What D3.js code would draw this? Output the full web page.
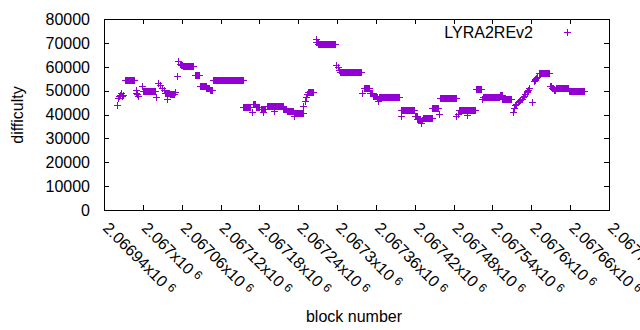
<!DOCTYPE html>
<html><head><meta charset="utf-8">
<script src="https://cdn.jsdelivr.net/npm/d3@7"></script>
<style>
body{margin:0;background:#fff}
svg{display:block}
text{font-family:"Liberation Sans",Arial,sans-serif;fill:#000}
</style>
</head><body>
<svg id="chart" width="640" height="330"></svg>
<script>
// Runs of blocks sharing one difficulty value: [start block, end block, difficulty]
const runStart = [2066960,2066961,2066963,2066965,2066966,2066968,2066970,2066972,2066989,2066990,2066991,2066993,2066999,2067001,2067020,2067024,2067027,2067030,2067032,2067034,2067038,2067039,2067042,2067050,2067052,2067055,2067057,2067059,2067062,2067080,2067089,2067098,2067103,2067109,2067155,2067168,2067170,2067174,2067183,2067186,2067187,2067191,2067202,2067203,2067217,2067222,2067233,2067234,2067248,2067250,2067252,2067254,2067255,2067267,2067268,2067271,2067299,2067301,2067303,2067305,2067339,2067342,2067351,2067355,2067361,2067363,2067364,2067398,2067399,2067420,2067424,2067429,2067430,2067431,2067432,2067447,2067457,2067459,2067484,2067487,2067489,2067500,2067501,2067515,2067524,2067526,2067551,2067555,2067571,2067573,2067575,2067577,2067579,2067581,2067583,2067585,2067587,2067588,2067590,2067593,2067594,2067595,2067596,2067597,2067601,2067604,2067605,2067606,2067607,2067609,2067612,2067629,2067632,2067635,2067638,2067658];
const runEnd   = [2066960,2066961,2066963,2066965,2066966,2066968,2066970,2066987,2066989,2066990,2066991,2066993,2066999,2067018,2067020,2067024,2067027,2067030,2067032,2067037,2067038,2067041,2067048,2067050,2067052,2067055,2067057,2067060,2067077,2067087,2067097,2067102,2067107,2067154,2067165,2067168,2067173,2067180,2067185,2067186,2067188,2067201,2067202,2067216,2067221,2067232,2067233,2067247,2067248,2067250,2067252,2067254,2067263,2067267,2067270,2067297,2067299,2067301,2067303,2067337,2067339,2067350,2067354,2067360,2067362,2067363,2067396,2067398,2067419,2067423,2067428,2067429,2067430,2067431,2067446,2067456,2067457,2067483,2067484,2067487,2067499,2067500,2067513,2067522,2067524,2067550,2067554,2067569,2067571,2067573,2067575,2067577,2067579,2067581,2067583,2067585,2067587,2067588,2067590,2067593,2067594,2067595,2067596,2067597,2067601,2067604,2067605,2067606,2067607,2067609,2067628,2067631,2067634,2067637,2067657,2067682];
const runDiff  = [43900,46900,47600,48300,48800,47900,48000,54500,50400,49100,48500,47800,51800,49800,47300,53400,52300,51200,50100,49200,46500,49200,48500,49400,56000,62300,61300,60800,60200,56600,52100,51100,50200,54500,43100,41100,44600,43000,42200,41000,42200,43400,41400,43400,42300,41500,39300,40600,43500,45500,47500,48500,49500,71600,70500,69600,60800,59900,58500,57800,48800,51100,48900,47900,47300,45500,47300,39300,41700,39300,38200,37300,36300,37500,38500,42800,40300,47000,39300,40300,41800,40000,41800,50700,46500,47400,48200,46500,41000,42800,43800,44600,45200,45600,46200,46700,47400,47900,48400,49500,49900,50400,51000,51200,45300,53900,54400,54800,55300,55600,57500,52000,51300,50200,51200,49900];

const xTicks = [2066940,2067000,2067060,2067120,2067180,2067240,2067300,2067360,2067420,2067480,2067540,2067600,2067660,2067720];
const xTickMantissa = ["2.06694","2.067","2.06706","2.06712","2.06718","2.06724","2.0673","2.06736","2.06742","2.06748","2.06754","2.0676","2.06766","2.06772"];
const yTicks = [0,10000,20000,30000,40000,50000,60000,70000,80000];
const seriesName = "LYRA2REv2";
const xLabel = "block number";
const yLabel = "difficulty";
const color = "#9400d3";

// expand runs into one point per block
const points = [];
runStart.forEach((s, i) => {
  for (let b = s; b <= runEnd[i]; b++) points.push({block: b, diff: runDiff[i]});
});

const svg = d3.select("#chart");
const L = 104, R = 609, T = 19, B = 210;
const x = d3.scaleLinear().domain([2066940, 2067720]).range([L, R]);
const y = d3.scaleLinear().domain([0, 80000]).range([B, T]);

// border
svg.append("rect").attr("x", L + 0.5).attr("y", T + 0.5).attr("width", R - L).attr("height", B - T)
  .attr("fill", "none").attr("stroke", "#000").attr("stroke-width", 1).attr("shape-rendering", "crispEdges");

const tl = 5;
const tickG = svg.append("g").attr("stroke", "#000").attr("stroke-width", 1).attr("shape-rendering", "crispEdges");
yTicks.forEach(v => {
  const py = Math.round(y(v)) + 0.5;
  tickG.append("line").attr("x1", L).attr("x2", L + tl).attr("y1", py).attr("y2", py);
  tickG.append("line").attr("x1", R - tl).attr("x2", R).attr("y1", py).attr("y2", py);
});
xTicks.forEach(v => {
  const px = Math.round(x(v)) + 0.5;
  tickG.append("line").attr("x1", px).attr("x2", px).attr("y1", B).attr("y2", B - tl);
  tickG.append("line").attr("x1", px).attr("x2", px).attr("y1", T).attr("y2", T + tl);
});

// y tick labels
svg.append("g").selectAll("text").data(yTicks).join("text")
  .attr("x", 90).attr("y", d => y(d)).attr("dy", "0.36em")
  .attr("text-anchor", "end").attr("font-size", 16).text(d => d);

// x tick labels, rotated
const xl = svg.append("g").selectAll("text").data(xTicks).join("text")
  .attr("font-size", 16)
  .attr("transform", d => `translate(${x(d) - 2},${229}) rotate(45)`);
xl.append("tspan").text((d, i) => xTickMantissa[i] + "x10");
xl.append("tspan").attr("font-size", 12).attr("dx", 4).attr("dy", -4).text("6");

// axis titles
svg.append("text").attr("transform", `translate(17,115) rotate(-90)`)
  .attr("text-anchor", "middle").attr("dy", "0.36em").attr("font-size", 16).text(yLabel);
svg.append("text").attr("x", 354).attr("y", 316).attr("dy", "0.36em")
  .attr("text-anchor", "middle").attr("font-size", 16).text(xLabel);

// points
const hs = 3;
const plus = (px, py) => `M${px - hs},${py + 0.5}h${2 * hs + 1}M${px + 0.5},${py - hs}v${2 * hs + 1}`;
svg.append("path")
  .attr("d", points.map(p => plus(Math.round(x(p.block)), Math.round(y(p.diff)))).join(""))
  .attr("fill", "none").attr("stroke", color).attr("stroke-width", 1).attr("shape-rendering", "crispEdges");

// legend
svg.append("text").attr("x", 533).attr("y", 32).attr("dy", "0.36em")
  .attr("text-anchor", "end").attr("font-size", 16).text(seriesName);
svg.append("path").attr("d", plus(567, 32)).attr("fill", "none").attr("stroke", color)
  .attr("stroke-width", 1).attr("shape-rendering", "crispEdges");
</script>
</body></html>
